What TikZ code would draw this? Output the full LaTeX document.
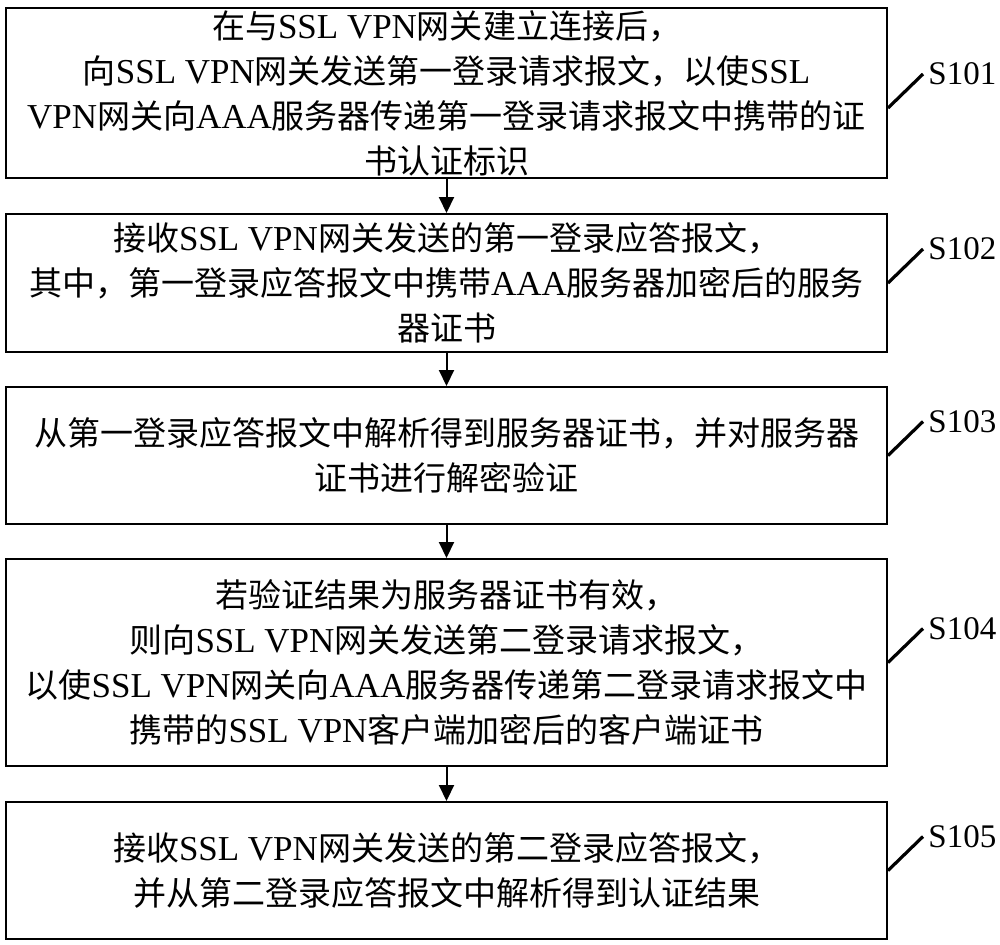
\documentclass[tikz,border=0pt]{standalone}
\usepackage{fontspec}
\setmainfont{Liberation Serif}
\newfontfamily\tnr[Scale=1.06]{Liberation Serif}
\newfontfamily\cjk{Noto Sans CJK SC}
\usetikzlibrary{arrows.meta}

\tikzset{
    stepbox/.style={draw, line width=1pt, minimum width=440.5pt, inner sep=0pt,
        align=center, font={\cjk\fontsize{16.5}{22.5}\selectfont}},
    flow/.style={line width=1pt, -{Triangle[length=8pt,width=7.5pt]}},
    steptag/.style={anchor=west, inner sep=2.5pt, font={\rmfamily\fontsize{16.5}{20}\selectfont}},
    tick/.style={line width=1.6pt}
}

\begin{document}
\begin{tikzpicture}[x=0.5pt,y=-0.5pt]
    \useasboundingbox (0,0) rectangle (1000,944);

    \node [stepbox, minimum height=85pt] (b1) at (446.5,93) {在与{\tnr SSL VPN}网关建立连接后，\\向{\tnr SSL VPN}网关发送第一登录请求报文，以使{\tnr SSL}\\{\tnr VPN}网关向{\tnr AAA}服务器传递第一登录请求报文中携带的证\\书认证标识};
    \node [stepbox, minimum height=69pt] (b2) at (446.5,283) {接收{\tnr SSL VPN}网关发送的第一登录应答报文，\\其中，第一登录应答报文中携带{\tnr AAA}服务器加密后的服务\\器证书};
    \node [stepbox, minimum height=68.5pt] (b3) at (446.5,455.5) {从第一登录应答报文中解析得到服务器证书，并对服务器\\证书进行解密验证};
    \node [stepbox, minimum height=103.5pt] (b4) at (446.5,662.5) {若验证结果为服务器证书有效，\\则向{\tnr SSL VPN}网关发送第二登录请求报文，\\以使{\tnr SSL VPN}网关向{\tnr AAA}服务器传递第二登录请求报文中\\携带的{\tnr SSL VPN}客户端加密后的客户端证书};
    \node [stepbox, minimum height=68.5pt] (b5) at (446.5,870.5) {接收{\tnr SSL VPN}网关发送的第二登录应答报文，\\并从第二登录应答报文中解析得到认证结果};

    \draw [flow] (b1) -- (b2);
    \draw [flow] (b2) -- (b3);
    \draw [flow] (b3) -- (b4);
    \draw [flow] (b4) -- (b5);

    % step numbers
    \coordinate (t1) at ([yshift=-7.5pt]b1.east);
    \node [steptag] (s101) at ([xshift=17.5pt,yshift=17pt]t1) {S101};
    \draw [tick] (t1) -- (s101.west);
    \node [steptag] (s102) at ([xshift=17.5pt,yshift=17pt]b2.east) {S102};
    \draw [tick] (b2.east) -- (s102.west);
    \node [steptag] (s103) at ([xshift=17.5pt,yshift=17pt]b3.east) {S103};
    \draw [tick] (b3.east) -- (s103.west);
    \node [steptag] (s104) at ([xshift=17.5pt,yshift=17pt]b4.east) {S104};
    \draw [tick] (b4.east) -- (s104.west);
    \node [steptag] (s105) at ([xshift=17.5pt,yshift=17pt]b5.east) {S105};
    \draw [tick] (b5.east) -- (s105.west);
\end{tikzpicture}
\end{document}
